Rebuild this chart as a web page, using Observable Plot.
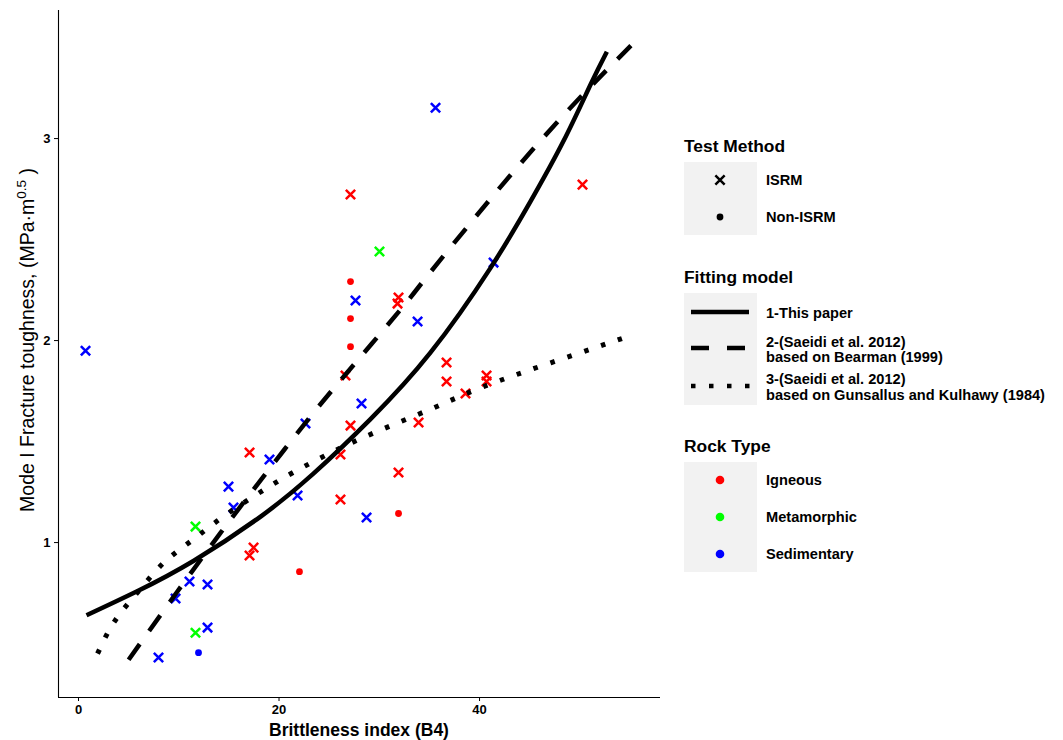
<!DOCTYPE html>
<html>
<head>
<meta charset="utf-8">
<script src="https://cdn.jsdelivr.net/npm/d3@7"></script>
<script src="https://cdn.jsdelivr.net/npm/@observablehq/plot@0.6"></script>
<style>
  body { margin: 0; background: #fff; }
  #chart { position: relative; width: 1063px; height: 740px; }
  svg text { font-family: "Liberation Sans", Arial, sans-serif; }
  svg text.tick-lab { font-size: 13px !important; font-weight: bold !important; }
</style>
</head>
<body>
<div id="chart"></div>
<script>
// ---------- categories / labels ----------
const rockTypes = ["Igneous", "Metamorphic", "Sedimentary"];
const rockColors = ["#FF0000", "#00FF00", "#0000FF"];
const testMethods = ["ISRM", "Non-ISRM"];
const modelLabels = [
  ["1-This paper"],
  ["2-(Saeidi et al. 2012)", "based on Bearman (1999)"],
  ["3-(Saeidi et al. 2012)", "based on Gunsallus and Kulhawy (1984)"]
];
const xTicks = [0, 20, 40];
const yTicks = [1, 2, 3];

// ---------- measured points ----------
const pointB4 = [
  0.70, 35.61, 27.63, 33.82, 41.40, 28.23, 22.64, 19.05, 14.96, 15.46, 21.85, 28.73, 11.07, 12.87, 9.68, 12.87, 7.98,
  11.97,
  30.02, 11.67, 11.67,
  27.13, 50.27, 31.92, 31.82, 26.63, 36.71, 36.71, 40.70, 40.70, 38.60, 33.92, 27.13, 17.06, 26.13, 31.92, 26.13, 17.46, 17.06,
  27.13, 27.13, 27.13, 31.92, 22.04
];
const pointKIc = [
  1.950, 3.153, 2.198, 2.094, 2.386, 1.688, 1.589, 1.411, 1.277, 1.173, 1.233, 1.124, 0.807, 0.792, 0.723, 0.579, 0.431,
  0.455,
  2.441, 1.079, 0.554,
  2.723, 2.772, 2.213, 2.183, 1.827, 1.891, 1.797, 1.827, 1.797, 1.738, 1.594, 1.579, 1.446, 1.436, 1.347, 1.213, 0.975, 0.936,
  2.292, 2.109, 1.970, 1.144, 0.856
];
const pointRock = [
  "Sedimentary","Sedimentary","Sedimentary","Sedimentary","Sedimentary","Sedimentary","Sedimentary","Sedimentary","Sedimentary",
  "Sedimentary","Sedimentary","Sedimentary","Sedimentary","Sedimentary","Sedimentary","Sedimentary","Sedimentary",
  "Sedimentary",
  "Metamorphic","Metamorphic","Metamorphic",
  "Igneous","Igneous","Igneous","Igneous","Igneous","Igneous","Igneous","Igneous","Igneous","Igneous","Igneous","Igneous",
  "Igneous","Igneous","Igneous","Igneous","Igneous","Igneous",
  "Igneous","Igneous","Igneous","Igneous","Igneous"
];
const pointMethod = [
  "ISRM","ISRM","ISRM","ISRM","ISRM","ISRM","ISRM","ISRM","ISRM","ISRM","ISRM","ISRM","ISRM","ISRM","ISRM","ISRM","ISRM",
  "Non-ISRM",
  "ISRM","ISRM","ISRM",
  "ISRM","ISRM","ISRM","ISRM","ISRM","ISRM","ISRM","ISRM","ISRM","ISRM","ISRM","ISRM","ISRM","ISRM","ISRM","ISRM","ISRM","ISRM",
  "Non-ISRM","Non-ISRM","Non-ISRM","Non-ISRM","Non-ISRM"
];

// ---------- fitted curves ----------
const curve1B4  = [0.8, 5.9, 11.5, 18.2, 23.4, 29.1, 35.1, 41.1, 45.1, 48.4, 51.1, 52.7];
const curve1KIc = [0.64, 0.76, 0.91, 1.13, 1.34, 1.61, 1.94, 2.36, 2.69, 2.99, 3.27, 3.43];
const curve2B4  = [5.0, 9.9, 14.2, 18.5, 23.4, 27.8, 32.4, 34.8, 39.4, 43.8, 49.4, 55.1];
const curve2KIc = [0.42, 0.76, 1.05, 1.33, 1.64, 1.90, 2.17, 2.32, 2.60, 2.86, 3.17, 3.46];
const curve3B4  = [1.9, 3.6, 6.0, 8.5, 11.3, 14.2, 17.2, 20.1, 23.4, 28.4, 35.1, 40.3, 47.1, 54.2];
const curve3KIc = [0.45, 0.61, 0.76, 0.90, 1.01, 1.12, 1.22, 1.31, 1.40, 1.52, 1.66, 1.77, 1.89, 2.01];

// ---------- build tables ----------
const points = pointB4.map((b, i) => ({ b4: b, kic: pointKIc[i], rock: pointRock[i], method: pointMethod[i] }));
const toCurve = (xs, ys) => xs.map((x, i) => ({ b4: x, kic: ys[i] }));
const curve1 = toCurve(curve1B4, curve1KIc);
const curve2 = toCurve(curve2B4, curve2KIc);
const curve3 = toCurve(curve3B4, curve3KIc);

const xDomain = [-1.995, 58.05];
const yDomain = [0.233, 3.634];
const lineW = 4.5;

const svg = Plot.plot({
  width: 1063,
  height: 740,
  marginLeft: 58,
  marginRight: 403,
  marginTop: 10,
  marginBottom: 43,
  x: { domain: xDomain },
  y: { domain: yDomain },
  color: { domain: rockTypes, range: rockColors },
  style: { fontFamily: "Liberation Sans, Arial, sans-serif", color: "#000", background: "#fff" },
  marks: [
    Plot.axisX({ ticks: xTicks, tickSize: 4, tickPadding: 3, fontSize: 13, fontWeight: "bold", label: null, tickFormat: d => String(d) }),
    Plot.axisY({ ticks: yTicks, tickSize: 4, tickPadding: 4, fontSize: 13, fontWeight: "bold", label: null, tickFormat: d => String(d) }),
    Plot.ruleX([xDomain[0]], { stroke: "#000", strokeWidth: 1.1 }),
    Plot.ruleY([yDomain[0]], { stroke: "#000", strokeWidth: 1.1 }),
    Plot.dot(points.filter(d => d.method === "ISRM"), { x: "b4", y: "kic", symbol: "times", r: 4.3, stroke: "rock", strokeWidth: 2.5 }),
    Plot.dot(points.filter(d => d.method === "Non-ISRM"), { x: "b4", y: "kic", symbol: "circle", r: 3.4, fill: "rock", stroke: null }),
    Plot.line(curve1, { x: "b4", y: "kic", stroke: "#000", strokeWidth: lineW, curve: "natural", strokeLinecap: "butt" }),
    Plot.line(curve2, { x: "b4", y: "kic", stroke: "#000", strokeWidth: lineW, curve: "natural", strokeLinecap: "butt", strokeDasharray: "19,17" }),
    Plot.line(curve3, { x: "b4", y: "kic", stroke: "#000", strokeWidth: lineW + 0.5, curve: "natural", strokeLinecap: "butt", strokeDasharray: "4.5,13.5" })
  ]
});

document.getElementById("chart").appendChild(svg);

const root = d3.select(svg);

// tick labels: the only text elements Plot produced
root.selectAll("text")
  .classed("tick-lab", true)
  .attr("fill", "#000");

// make the dash patterns start and end on a dash, as in the original
const linePaths = root.selectAll('g[aria-label="line"] path').nodes();
function fitDash(path, on, period) {
  if (!path || !path.getTotalLength) return;
  const L = path.getTotalLength();
  const n = Math.max(1, Math.round((L - on) / period));
  const p = (L - on) / n;
  path.setAttribute("stroke-dasharray", `${on},${p - on}`);
}
if (linePaths.length >= 3) {
  fitDash(linePaths[1], 19, 36);
  fitDash(linePaths[2], 4.5, 18);
}

// axis titles
root.append("text")
  .attr("x", 359).attr("y", 736)
  .attr("text-anchor", "middle")
  .style("font-size", "17.5px").style("font-weight", "bold").attr("fill", "#000")
  .text("Brittleness index (B4)");

const yt = root.append("text")
  .attr("transform", "translate(34,340) rotate(-90)")
  .attr("text-anchor", "middle")
  .style("font-size", "19.5px").attr("fill", "#000");
yt.append("tspan").text("Mode I Fracture toughness, (MPa\u00B7m");
yt.append("tspan").style("font-size", "13.5px").attr("dy", -8).text("0.5");
yt.append("tspan").attr("dy", 8).text(" )");

// legend
const lg = root.append("g").attr("fill", "#000").attr("text-anchor", "start");
const legX = 684, keyW = 73, symX = 720, labX = 766;
function legTitle(t, y) {
  lg.append("text").attr("x", legX).attr("y", y).attr("text-anchor", "start")
    .style("font-size", "17.4px").style("font-weight", "bold").text(t);
}
function legLabel(t, y) {
  lg.append("text").attr("x", labX).attr("y", y).attr("dy", "0.36em").attr("text-anchor", "start")
    .style("font-size", "14.6px").style("font-weight", "bold").text(t);
}
function legBox(y, h) {
  lg.append("rect").attr("x", legX).attr("y", y).attr("width", keyW).attr("height", h).attr("fill", "#F2F2F2");
}

// Test Method
legTitle("Test Method", 152);
legBox(162, 73);
const tmY = [180, 217];
lg.append("path")
  .attr("transform", `translate(${symX},${tmY[0]})`)
  .attr("d", d3.symbol(d3.symbolTimes, Math.PI * 4.3 * 4.3)())
  .attr("fill", "none").attr("stroke", "#000").attr("stroke-width", 2.5);
lg.append("circle").attr("cx", symX).attr("cy", tmY[1]).attr("r", 3.4).attr("fill", "#000");
testMethods.forEach((t, i) => legLabel(t, tmY[i]));

// Fitting model
legTitle("Fitting model", 283);
legBox(293, 112);
const fmY = [312, 348, 386];
const fmLabelY = [[313], [342, 357], [379, 395]];
const fmDash = [null, "18,18", "4.5,13.5"];
const fmEnd = [749, 746, 750];
fmY.forEach((y, i) => {
  const ln = lg.append("line").attr("x1", 691).attr("x2", fmEnd[i]).attr("y1", y).attr("y2", y)
    .attr("stroke", "#000").attr("stroke-width", lineW).attr("stroke-linecap", "butt");
  if (fmDash[i]) ln.attr("stroke-dasharray", fmDash[i]);
  modelLabels[i].forEach((t, j) => legLabel(t, fmLabelY[i][j]));
});

// Rock Type
legTitle("Rock Type", 452);
legBox(462, 110);
const rtY = [480, 517, 554];
rockTypes.forEach((t, i) => {
  lg.append("circle").attr("cx", symX).attr("cy", rtY[i]).attr("r", 4.3).attr("fill", rockColors[i]);
  legLabel(t, rtY[i]);
});
</script>
</body>
</html>
